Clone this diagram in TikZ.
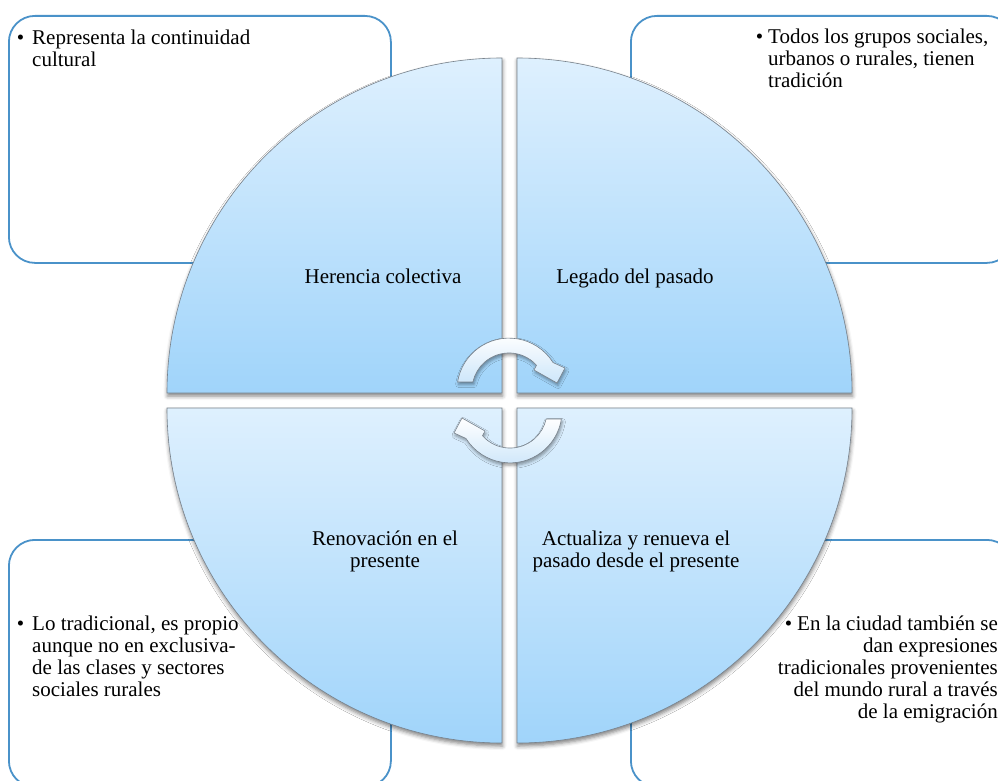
\documentclass[tikz,border=0pt]{standalone}
\usepackage{fontspec}
\setmainfont{Liberation Serif}
\usetikzlibrary{shadows.blur}
\definecolor{qtop}{RGB}{222,240,254}
\definecolor{qbot}{RGB}{160,212,250}
\definecolor{qline}{RGB}{120,130,140}
\definecolor{boxline}{RGB}{74,146,201}
\definecolor{arrbot}{RGB}{205,230,250}
\begin{document}
\begin{tikzpicture}[x=1pt,y=1pt,
  txt/.style={font=\fontsize{21}{22}\selectfont, inner sep=0pt},
  infobox/.style={draw=boxline, line width=1.8pt, rounded corners=26pt, fill=white, minimum width=382pt, minimum height=247pt, inner sep=0pt, anchor=north west},
  quad/.style={draw=qline, line width=0.6pt, top color=qtop, bottom color=qbot, blur shadow={shadow xshift=0.5pt, shadow yshift=-3pt, shadow blur radius=4pt, shadow opacity=50}},
  cyc/.style={draw=qline, line width=0.6pt, top color=white, bottom color=arrbot, blur shadow={shadow xshift=1pt, shadow yshift=-2.5pt, shadow blur radius=3pt, shadow opacity=40}}]
\useasboundingbox (0,0) rectangle (998,-781);
\clip (0,0) rectangle (998,-781);
% information boxes
\node[infobox] (b1) at (8,-15) {};
\node[infobox] (b2) at (630,-15) {};
\node[infobox] (b3) at (8,-539) {};
\node[infobox] (b4) at (630,-539) {};
% quadrants
\path[quad] (502,-393) -- (167,-393) arc[start angle=180, end angle=90, radius=335pt] -- cycle;
\path[quad] (517,-393) -- (517,-58) arc[start angle=90, end angle=0, radius=335pt] -- cycle;
\path[quad] (502,-408) -- (167,-408) arc[start angle=180, end angle=270, radius=335pt] -- cycle;
\path[quad] (517,-408) -- (852,-408) arc[start angle=0, end angle=-90, radius=335pt] -- cycle;
% cycle arrows
\path[cyc] (457.6,-382) arc[start angle=171, end angle=32, radius=52pt] -- (565,-368) -- (557,-383) -- (534,-370) -- (536.5,-365.2) arc[start angle=42, end angle=167.5, radius=37pt] -- cycle;
\path[cyc] (561.4,-419) arc[start angle=351, end angle=212, radius=52pt] -- (454,-433) -- (462,-418) -- (485,-431) -- (482.5,-435.8) arc[start angle=222, end angle=347.5, radius=37pt] -- cycle;
% quadrant labels (base anchor = baseline of the last line)
\node[txt, anchor=base] (l1) at (383,-283) {Herencia colectiva};
\node[txt, anchor=base] (l2) at (635,-283) {Legado del pasado};
\node[txt, anchor=base, align=center] (l3) at (385,-567) {Renovación en el\\presente};
\node[txt, anchor=base, align=center] (l4) at (636,-567) {Actualiza y renueva el\\pasado desde el presente};
% box texts
\node[txt, anchor=base west, align=left] (t1) at (32,-67) {\llap{•\kern8pt}Representa la continuidad\\cultural};
\node[txt, anchor=base west, align=left] (t2) at (768,-88) {\llap{•\kern5pt}Todos los grupos sociales,\\urbanos o rurales, tienen\\tradición};
\node[txt, anchor=base west, align=left] (t3) at (32,-696) {\llap{•\kern8pt}Lo tradicional, es propio\\aunque no en exclusiva-\\de las clases y sectores\\sociales rurales};
\node[txt, anchor=base east, align=right] (t4) at (998,-718) {•\kern5pt En la ciudad también se\\dan expresiones\\tradicionales provenientes\\del mundo rural a través\\de la emigración};
\end{tikzpicture}
\end{document}
